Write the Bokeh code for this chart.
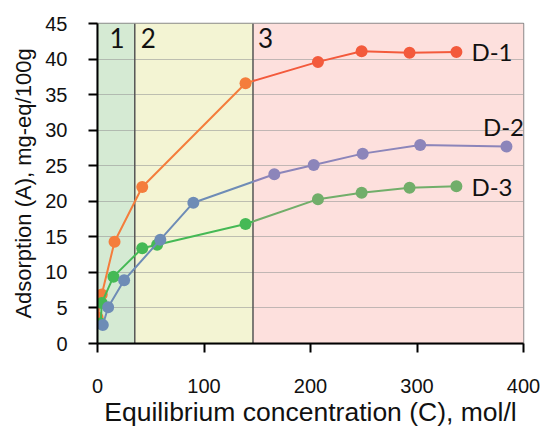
import numpy as np
from bokeh.plotting import figure
from bokeh.models import BoxAnnotation, Span, Label, FixedTicker
from bokeh.embed import file_html
from bokeh.resources import INLINE

# ---- data ----
d1_x = [0, 4, 16, 42, 139, 207, 248, 293, 337]
d1_y = [3.7, 6.9, 14.3, 22.0, 36.6, 39.6, 41.1, 40.9, 41.0]
d2_x = [5, 10, 25, 59, 90, 166, 203, 249, 303, 384]
d2_y = [2.6, 5.1, 8.9, 14.6, 19.8, 23.8, 25.1, 26.7, 27.9, 27.7]
d3_x = [3, 4, 15, 42, 56, 139, 207, 248, 293, 337]
d3_y = [2.8, 5.7, 9.4, 13.4, 13.9, 16.8, 20.3, 21.2, 21.9, 22.1]
series_names = ["D-1", "D-2", "D-3"]

region_edges = [0, 35, 146, 400]
region_names = ["1", "2", "3"]
region_colors = ["#d5ead3", "#f3f4d3", "#fde0dd"]
region_label_y = 43.0

x_ticks = [0, 100, 200, 300, 400]
y_ticks = list(range(0, 50, 5))

# colours of each series: left part (regions 1-2), right part (region 3)
col_left = ["#f47d3c", "#6e8cb6", "#45b955"]
col_right = ["#f35a3c", "#8c85ba", "#72ae6a"]

p = figure(width=542, height=429, x_range=(0, 400), y_range=(0, 45),
           output_backend="svg", toolbar_location=None,
           min_border_left=97, min_border_right=19, min_border_top=23,
           min_border_bottom=83)
p.background_fill_color = "white"
p.border_fill_color = "white"
p.outline_line_color = "#8a8a8a"
p.outline_line_width = 1.5

# region backgrounds
for i in range(3):
    p.add_layout(BoxAnnotation(left=region_edges[i], right=region_edges[i + 1],
                               fill_color=region_colors[i], fill_alpha=1.0,
                               line_color=None, level="image"))

p.xgrid.visible = False
p.ygrid.ticker = FixedTicker(ticks=y_ticks)
p.ygrid.grid_line_color = "#9a9a9a"
p.ygrid.grid_line_alpha = 0.6
p.ygrid.grid_line_width = 1.2

for e in region_edges[1:3]:
    p.add_layout(Span(location=e, dimension="height", line_color="#555555",
                      line_width=1.5, level="underlay"))

# series lines, split at the region-3 boundary for colour change
b = region_edges[2]
xs_all = [d1_x, d2_x, d3_x]
ys_all = [d1_y, d2_y, d3_y]
for k in [0, 2, 1]:
    xs = np.array(xs_all[k], dtype=float)
    ys = np.array(ys_all[k], dtype=float)
    yb = float(np.interp(b, xs, ys))
    left = xs < b
    lx = list(xs[left]) + [b]
    ly = list(ys[left]) + [yb]
    rx = [b] + list(xs[~left])
    ry = [yb] + list(ys[~left])
    p.line(lx, ly, line_color=col_left[k], line_width=2)
    p.line(rx, ry, line_color=col_right[k], line_width=2)
    p.scatter(list(xs[left]), list(ys[left]), size=12, fill_color=col_left[k],
              line_color=None)
    p.scatter(list(xs[~left]), list(ys[~left]), size=12, fill_color=col_right[k],
              line_color=None)

# series labels
lab_xoff = [15, -3, 15]
lab_yoff = [0, 20, 0]
lab_align = ["left", "center", "left"]
for k in range(3):
    p.add_layout(Label(x=xs_all[k][-1], y=ys_all[k][-1], text=series_names[k],
                       x_offset=lab_xoff[k], y_offset=lab_yoff[k],
                       text_align=lab_align[k],
                       text_baseline="middle", text_font="Lato",
                       text_font_size="24px", text_color="#111111"))

# region numbers
reg_off = [12, 6, 5]
for i in range(3):
    p.add_layout(Label(x=region_edges[i], x_offset=reg_off[i], y=region_label_y,
                       text=region_names[i], text_align="left",
                       text_baseline="alphabetic", text_font="Lato",
                       text_font_size="26px", text_color="#111111"))

# axes
p.xaxis.ticker = FixedTicker(ticks=x_ticks)
p.yaxis.ticker = FixedTicker(ticks=y_ticks)
for ax in (p.xaxis[0], p.yaxis[0]):
    ax.axis_line_color = "black"
    ax.axis_line_width = 2
    ax.major_tick_line_color = "black"
    ax.major_tick_line_width = 2
    ax.major_tick_out = 9
    ax.major_tick_in = 0
    ax.minor_tick_line_color = None
    ax.major_label_text_font = "Liberation Sans"
    ax.major_label_text_font_size = "20px"
    ax.major_label_text_color = "#111111"
    ax.axis_label_text_font = "Liberation Sans"
    ax.axis_label_text_font_style = "normal"
    ax.axis_label_text_color = "#111111"

p.xaxis.axis_label = "Equilibrium concentration (C), mol/l"
p.xaxis.axis_label_text_font_size = "26.5px"
p.xaxis.major_label_standoff = 26
p.xaxis.axis_label_standoff = 1
p.yaxis.axis_label = "Adsorption (A), mg-eq/100g"
p.yaxis.axis_label_text_font_size = "22px"
p.yaxis.major_label_standoff = 21
p.yaxis.axis_label_standoff = 6

open("out.html", "w").write(file_html(p, INLINE))
